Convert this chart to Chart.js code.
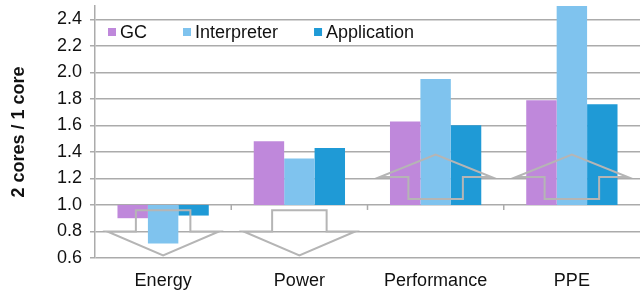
<!DOCTYPE html>
<html>
<head>
<meta charset="utf-8">
<script src="https://cdn.jsdelivr.net/npm/chart.js@4"></script>
<style>
  html, body { margin: 0; padding: 0; background: #fff; }
  #wrap { width: 641px; height: 297px; }
</style>
</head>
<body>
<div id="wrap"><canvas id="canvas" width="641" height="297"></canvas></div>
<script>
// dane (stosunek 2 rdzenie / 1 rdzeń)
const categories = ['Energy', 'Power', 'Performance', 'PPE'];
const seriesNames = ['GC', 'Interpreter', 'Application'];
const gcValues = [0.90, 1.48, 1.63, 1.79];
const interpreterValues = [0.71, 1.35, 1.95, 2.55];
const applicationValues = [0.92, 1.43, 1.60, 1.76];
const yTicks = [0.6, 0.8, 1.0, 1.2, 1.4, 1.6, 1.8, 2.0, 2.2, 2.4];
const baseValue = 1.0;
// kierunek strzałki nad/pod każdą kategorią
const arrowDirections = ['down', 'down', 'up', 'up'];

const colors = ['#BF88DB', '#7FC3EE', '#1F9AD6'];
const gridColor = '#ababab';
const arrowColor = '#b5b5b5';
const fontFamily = '"Liberation Sans", Arial, Helvetica, sans-serif';

let floating = function(values) {
    return values.map(function(v) { return [baseValue, v]; });
};

// legenda wewnątrz obszaru wykresu
const insideLegend = {
    id: 'insideLegend',
    afterDraw(chart) {
        let ctx = chart.ctx;
        let area = chart.chartArea;
        let x = area.left + 13;
        let y = area.top + 27;
        ctx.save();
        ctx.font = '18px ' + fontFamily;
        ctx.textBaseline = 'middle';
        chart.data.datasets.forEach(function(ds) {
            ctx.fillStyle = ds.backgroundColor;
            ctx.fillRect(x, y - 5, 8, 8);
            ctx.fillStyle = '#111';
            ctx.fillText(ds.label, x + 12, y);
            x += 12 + ctx.measureText(ds.label).width + 36;
        });
        ctx.restore();
    }
};

// strzałki (obrys) i znaczniki kategorii na linii 1.0
const arrows = {
    id: 'arrows',
    afterDatasetsDraw(chart) {
        let ctx = chart.ctx;
        let xs = chart.scales.x;
        let ys = chart.scales.y;
        let catW = xs.getPixelForValue(1) - xs.getPixelForValue(0);
        ctx.save();
        ctx.strokeStyle = arrowColor;
        ctx.lineWidth = 2;
        ctx.lineJoin = 'miter';
        arrowDirections.forEach(function(dir, i) {
            let cx = xs.getPixelForValue(i);
            let sw = catW * 0.2;
            let hw = catW * 0.41;
            let shaftEnd, shoulder, tip;
            if (dir === 'down') {
                shaftEnd = ys.getPixelForValue(0.96);
                shoulder = ys.getPixelForValue(0.80);
                tip = ys.getPixelForValue(0.62);
            } else {
                shaftEnd = ys.getPixelForValue(1.045);
                shoulder = ys.getPixelForValue(1.21);
                tip = ys.getPixelForValue(1.38);
            }
            ctx.beginPath();
            ctx.moveTo(cx - sw, shaftEnd);
            ctx.lineTo(cx + sw, shaftEnd);
            ctx.lineTo(cx + sw, shoulder);
            ctx.lineTo(cx + hw, shoulder);
            ctx.lineTo(cx, tip);
            ctx.lineTo(cx - hw, shoulder);
            ctx.lineTo(cx - sw, shoulder);
            ctx.closePath();
            ctx.stroke();
        });
        // małe kreski między kategoriami
        ctx.strokeStyle = gridColor;
        ctx.lineWidth = 1.5;
        let y1 = ys.getPixelForValue(baseValue);
        for (let i = 0; i < categories.length - 1; i++) {
            let bx = (xs.getPixelForValue(i) + xs.getPixelForValue(i + 1)) / 2;
            ctx.beginPath();
            ctx.moveTo(bx, y1);
            ctx.lineTo(bx, y1 + 5);
            ctx.stroke();
        }
        ctx.restore();
    }
};

let canvas = document.getElementById('canvas');
let ctx = canvas.getContext('2d');

let config = {
    type: 'bar',
    data: {
        labels: categories,
        datasets: [
            { label: seriesNames[0], data: floating(gcValues), backgroundColor: colors[0] },
            { label: seriesNames[1], data: floating(interpreterValues), backgroundColor: colors[1] },
            { label: seriesNames[2], data: floating(applicationValues), backgroundColor: colors[2] }
        ]
    },
    options: {
        responsive: false,
        animation: false,
        devicePixelRatio: 1,
        layout: { padding: { top: 6, right: 1, left: 0, bottom: 0 } },
        datasets: {
            bar: { barPercentage: 1.0, categoryPercentage: 0.67, borderWidth: 0 }
        },
        plugins: {
            legend: { display: false },
            tooltip: { enabled: false }
        },
        scales: {
            x: {
                grid: { display: false },
                border: { display: false },
                ticks: {
                    color: '#111',
                    padding: 4,
                    font: { family: fontFamily, size: 18 }
                },
                afterFit: function(scale) { scale.height = 39; }
            },
            y: {
                min: 0.6,
                max: 2.5,
                afterBuildTicks: function(scale) {
                    scale.ticks = yTicks.map(function(v) { return { value: v }; });
                },
                grid: { color: gridColor, lineWidth: 1.5, tickLength: 5 },
                border: { color: gridColor, width: 1.5 },
                ticks: {
                    color: '#111',
                    padding: 8,
                    font: { family: fontFamily, size: 18 },
                    callback: function(v) { return Number(v).toFixed(1); }
                },
                title: {
                    display: true,
                    text: '2 cores / 1 core',
                    color: '#111',
                    padding: { top: 8, bottom: 0 },
                    font: { family: fontFamily, size: 18, weight: 'bold' }
                },
                afterFit: function(scale) {
                    scale.width = 95;
                    scale.paddingTop = 0;
                    scale.paddingBottom = 0;
                }
            }
        }
    },
    plugins: [arrows, insideLegend]
};

let chart = new Chart(ctx, config);
</script>
</body>
</html>
